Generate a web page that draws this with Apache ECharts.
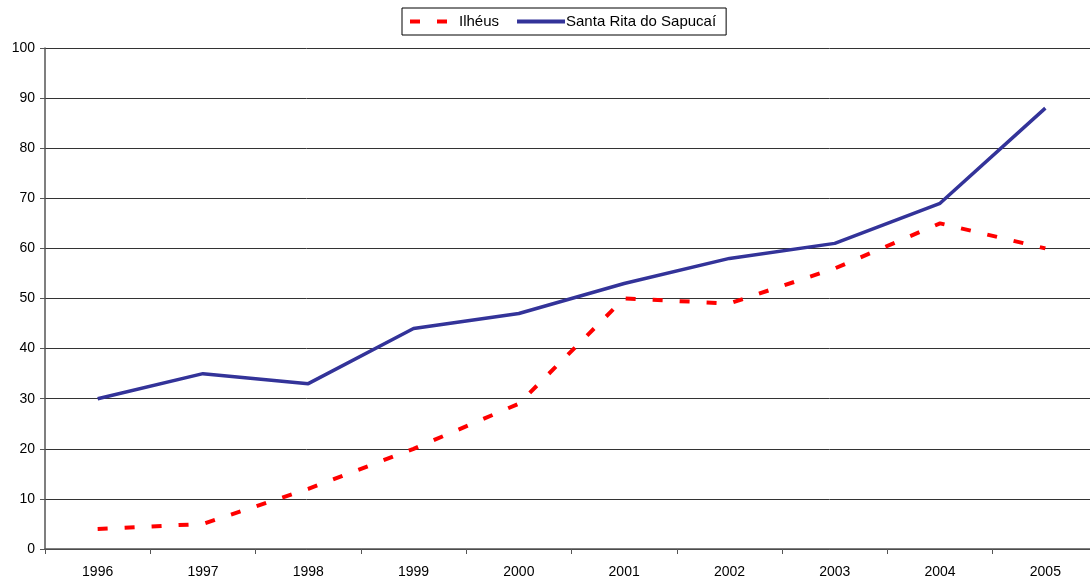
<!DOCTYPE html>
<html><head><meta charset="utf-8">
<script src="https://cdn.jsdelivr.net/npm/echarts@6/dist/echarts.min.js"></script>
<style>html,body{margin:0;padding:0;background:#fff;overflow:hidden}#c{width:1090px;height:576px}</style>
</head><body><div id="c"></div>
<script>
var categories = ['1996','1997','1998','1999','2000','2001','2002','2003','2004','2005'];
var ilheus = [4, 5, 12, 20, 29, 50, 49, 56, 65, 60];
var santaRita = [30, 35, 33, 44, 47, 53, 58, 61, 69, 88];
var seriesNames = ['Ilhéus', 'Santa Rita do Sapucaí'];

var chart = echarts.init(document.getElementById('c'), null, {renderer: 'canvas'});
chart.setOption({
  animation: false,
  textStyle: {fontFamily: 'Liberation Sans, Arial, sans-serif'},
  legend: {
    top: 8, left: 402,
    data: seriesNames,
    borderColor: '#000', borderWidth: 1,
    padding: [6, 10, 6, 6],
    itemGap: 16, itemWidth: 48, itemHeight: 10,
    itemStyle: {opacity: 0},
    lineStyle: {width: 4},
    textStyle: {fontSize: 15, color: '#000', padding: [0, 0, 0, -4], fontFamily: 'Liberation Sans, Arial, sans-serif'}
  },
  grid: {left: 45, width: 1053, top: 48, bottom: 27, containLabel: false, outerBoundsMode: 'none'},
  xAxis: {
    type: 'category', data: categories, boundaryGap: true,
    axisLine: {lineStyle: {color: '#555', width: 1.5}},
    axisTick: {show: true, length: 5, inside: false, lineStyle: {color: '#555'}},
    axisLabel: {color: '#000', fontSize: 14, margin: 16},
    splitLine: {show: false}
  },
  yAxis: {
    type: 'value', min: 0, max: 100, interval: 10,
    axisLine: {show: true, lineStyle: {color: '#555', width: 1.5}},
    axisTick: {show: true, length: 5, lineStyle: {color: '#555'}},
    axisLabel: {color: '#000', fontSize: 14, margin: 10},
    splitLine: {show: true, lineStyle: {color: '#333', width: 1}}
  },
  series: [
    {name: seriesNames[0], type: 'line', data: ilheus, symbol: 'none',
     itemStyle: {color: '#ff0000'},
     lineStyle: {color: '#ff0000', width: 4, type: [10, 17]}},
    {name: seriesNames[1], type: 'line', data: santaRita, symbol: 'none',
     itemStyle: {color: '#333399'},
     lineStyle: {color: '#333399', width: 3.5, type: 'solid'}}
  ]
});
</script></body></html>
